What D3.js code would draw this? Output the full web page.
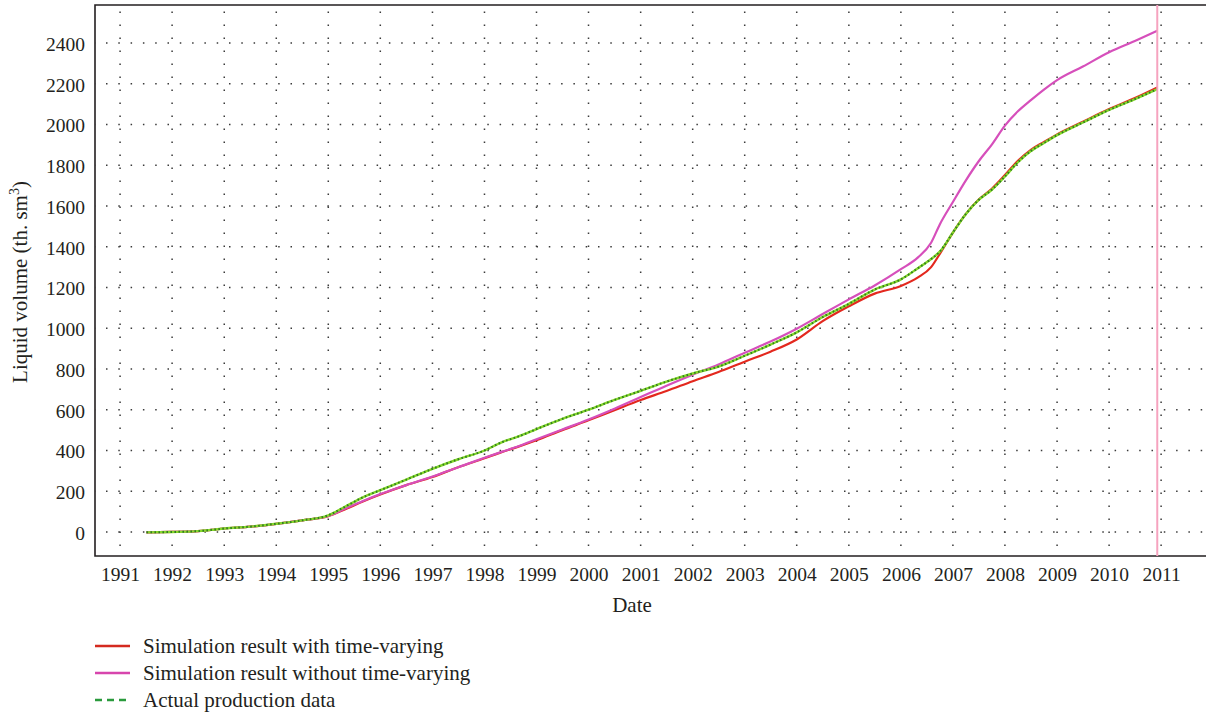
<!DOCTYPE html>
<html>
<head>
<meta charset="utf-8">
<script src="https://cdn.jsdelivr.net/npm/d3@7"></script>
<style>
  html, body { margin: 0; padding: 0; background: #fff; }
  svg { display: block; }
  text { font-family: "Liberation Serif", "Times New Roman", serif; fill: #231f20; }
</style>
</head>
<body>
<svg id="chart" width="1206" height="714"></svg>
<script>
// Sampling dates (shared by all three series)
const dates = [
  "1991-07-05", "1992-01-01", "1992-07-01", "1992-10-01", "1993-01-01", "1993-07-01",
  "1994-01-01", "1994-07-01", "1995-01-01", "1995-05-01", "1995-09-01", "1996-01-01",
  "1996-07-01", "1997-01-01", "1997-07-01", "1998-01-01", "1998-05-01", "1998-09-01",
  "1999-01-01", "1999-07-01", "2000-01-01", "2000-07-01", "2001-01-01", "2001-07-01",
  "2002-01-01", "2002-07-01", "2003-01-01", "2003-07-01", "2004-01-01", "2004-07-01",
  "2005-01-01", "2005-07-01", "2006-01-01", "2006-05-01", "2006-08-01", "2006-10-01",
  "2007-01-01", "2007-04-01", "2007-07-01", "2007-10-01", "2008-01-01", "2008-04-01",
  "2008-07-01", "2008-10-01", "2009-01-01", "2009-07-01", "2010-01-01", "2010-07-01",
  "2010-12-05"
];

// Cumulative liquid volume, th. sm3
const withTimeVarying = [
  -2, 0, 4, 10, 17, 26,
  40, 57, 78, 112, 150, 184,
  230, 270, 318, 362, 392, 420,
  450, 500, 548, 598, 648, 692,
  740, 785, 836, 885, 945, 1035,
  1108, 1170, 1208, 1250, 1300, 1365,
  1470, 1560, 1632, 1685, 1752, 1822,
  1876, 1915, 1952, 2014, 2076, 2130,
  2182
];
const withoutTimeVarying = [
  -2, 0, 4, 10, 17, 26,
  40, 57, 78, 115, 152, 186,
  230, 272, 318, 364, 393, 422,
  455, 503, 552, 605, 662, 718,
  772, 822, 880, 935, 998, 1070,
  1142, 1210, 1290, 1348, 1420, 1510,
  1620, 1725, 1820, 1902, 1995, 2065,
  2120, 2172, 2218, 2285, 2355, 2410,
  2460
];
const actualProduction = [
  -2, 0, 4, 10, 17, 26,
  40, 57, 82, 125, 170, 205,
  257, 310, 357, 400, 440, 470,
  505, 555, 600, 648, 693, 738,
  778, 812, 865, 920, 980, 1055,
  1120, 1190, 1240, 1295, 1340, 1376,
  1470, 1560, 1630, 1680, 1745, 1815,
  1870, 1910, 1948, 2010, 2072, 2125,
  2174
];

const yTicks = [0, 200, 400, 600, 800, 1000, 1200, 1400, 1600, 1800, 2000, 2200, 2400];
const xTickYears = d3.range(1991, 2012);
const historyEnd = "2010-12-05";

const legendItems = [
  "Simulation result with time-varying",
  "Simulation result without time-varying",
  "Actual production data"
];

const parse = d3.timeParse("%Y-%m-%d");
const svg = d3.select("#chart");

const plot = { left: 95, right: 1206, top: 5, bottom: 556 };

const x = d3.scaleTime()
  .domain([new Date(1990, 6, 9), new Date(2011, 10, 12)])
  .range([plot.left, plot.right]);
const y = d3.scaleLinear()
  .domain([-118, 2587])
  .range([plot.bottom, plot.top]);

// Dotted grid
const grid = svg.append("g").attr("class", "grid");
grid.selectAll("line.h").data(yTicks).join("line")
  .attr("class", "h")
  .attr("x1", plot.left).attr("x2", plot.right)
  .attr("y1", d => y(d)).attr("y2", d => y(d))
  .attr("stroke", "#3a3a3a").attr("stroke-width", 1.5)
  .attr("stroke-dasharray", "1.5 10.8").attr("stroke-dashoffset", -11);
grid.selectAll("line.v").data(xTickYears).join("line")
  .attr("class", "v")
  .attr("x1", d => x(new Date(d, 0, 1))).attr("x2", d => x(new Date(d, 0, 1)))
  .attr("y1", plot.bottom).attr("y2", plot.top)
  .attr("stroke", "#3a3a3a").attr("stroke-width", 1.5)
  .attr("stroke-dasharray", "1.5 11.5").attr("stroke-dashoffset", -10);

// Frame: left, top and bottom edges
svg.append("path")
  .attr("d", `M${plot.right},${plot.top}H${plot.left}V${plot.bottom}H${plot.right}`)
  .attr("fill", "none").attr("stroke", "#231f20").attr("stroke-width", 1.6);

// Axis labels via d3 axes (no tick marks)
const yAxis = d3.axisLeft(y).tickValues(yTicks).tickFormat(d3.format("d"))
  .tickSize(0).tickPadding(10);
svg.append("g")
  .attr("transform", `translate(${plot.left},0)`)
  .call(yAxis)
  .call(g => g.select(".domain").remove())
  .selectAll("text")
  .attr("font-family", "Liberation Serif, serif")
  .attr("font-size", 19.5).attr("fill", "#231f20").attr("dy", "0.38em");

const xAxis = d3.axisBottom(x)
  .tickValues(xTickYears.map(yr => new Date(yr, 0, 1)))
  .tickFormat(d3.timeFormat("%Y")).tickSize(0).tickPadding(11);
svg.append("g")
  .attr("transform", `translate(0,${plot.bottom})`)
  .call(xAxis)
  .call(g => g.select(".domain").remove())
  .selectAll("text")
  .attr("font-family", "Liberation Serif, serif")
  .attr("font-size", 19.5).attr("fill", "#231f20");

// Axis titles
svg.append("text")
  .attr("x", x(new Date(2000, 10, 1))).attr("y", 612)
  .attr("text-anchor", "middle").attr("font-size", 21)
  .text("Date");

const yTitle = svg.append("text")
  .attr("transform", `translate(27,${282}) rotate(-90)`)
  .attr("text-anchor", "middle").attr("font-size", 21);
yTitle.append("tspan").text("Liquid volume (th. sm");
yTitle.append("tspan").attr("font-size", 14).attr("dy", -8).text("3");
yTitle.append("tspan").attr("dy", 8).text(")");

// Series
const line = d3.line()
  .x(d => x(d.date)).y(d => y(d.value))
  .curve(d3.curveMonotoneX);
const toPoints = vals => dates.map((s, i) => ({ date: parse(s), value: vals[i] }));

const curves = svg.append("g");
curves.append("path").datum(toPoints(withTimeVarying))
  .attr("d", line).attr("fill", "none")
  .attr("stroke", "#e3281e").attr("stroke-width", 2.2);
curves.append("path").datum(toPoints(withoutTimeVarying))
  .attr("d", line).attr("fill", "none")
  .attr("stroke", "#d64fbb").attr("stroke-width", 2.2);
curves.append("path").datum(toPoints(actualProduction))
  .attr("d", line).attr("fill", "none")
  .attr("stroke", "#86d82a").attr("stroke-width", 2.4);
curves.append("path").datum(toPoints(actualProduction))
  .attr("d", line).attr("fill", "none")
  .attr("stroke", "#2f7d1f").attr("stroke-width", 2)
  .attr("stroke-dasharray", "1.6 2.4");

// History end marker
svg.append("line")
  .attr("x1", x(parse(historyEnd))).attr("x2", x(parse(historyEnd)))
  .attr("y1", plot.top).attr("y2", plot.bottom)
  .attr("stroke", "#f6a3bf").attr("stroke-width", 2);

// Legend
const legendColors = ["#d42a1f", "#d745ad", "#2a9a3c"];
const legendDash = [null, null, "7 5"];
const legend = svg.append("g");
legendItems.forEach((label, i) => {
  const ly = 646 + i * 27;
  legend.append("line")
    .attr("x1", 95).attr("x2", 130).attr("y1", ly).attr("y2", ly)
    .attr("stroke", legendColors[i]).attr("stroke-width", 2.5)
    .attr("stroke-dasharray", legendDash[i]);
  legend.append("text")
    .attr("x", 143).attr("y", ly + 7)
    .attr("font-size", 21)
    .text(label);
});
</script>
</body>
</html>
